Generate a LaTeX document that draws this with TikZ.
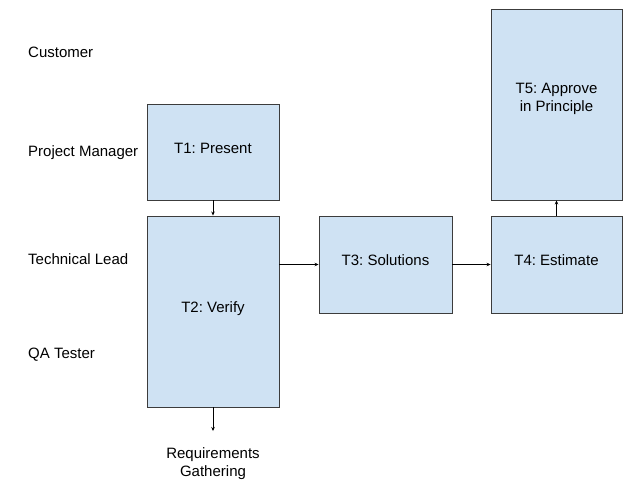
\documentclass[tikz,border=0pt]{standalone}
\usepackage{fontspec}
\setmainfont{Liberation Sans}
\usetikzlibrary{arrows.meta}
\definecolor{boxfill}{HTML}{CFE2F3}
\definecolor{boxline}{HTML}{3C3C3C}
\frenchspacing
\begin{document}
\begin{tikzpicture}[x=1pt,y=-1pt,
  font=\fontsize{15}{18}\selectfont\frenchspacing,
  task/.style={draw=boxline,fill=boxfill,line width=0.9pt,inner sep=0pt,
    align=center,text depth=8pt},
  role/.style={anchor=west,inner sep=0pt},
  conn/.style={line width=0.8pt,-{Stealth[length=4pt,width=3.5pt]}}]
\useasboundingbox (0,0) rectangle (639,493);
% roles
\node[role] (customer) at (28,52) {Customer};
\node[role] (pm) at (28,153) {Project Manager};
\node[role] (tl) at (28,259) {Technical Lead};
\node[role] (qa) at (28,355) {QA Tester};
% tasks
\node[task,minimum width=132pt,minimum height=96pt] (t1) at (213,152) {T1: Present};
\node[task,minimum width=132pt,minimum height=191pt] (t2) at (213,311.5) {T2: Verify};
\node[task,minimum width=133pt,minimum height=97pt] (t3) at (385.5,264.5) {T3: Solutions};
\node[task,minimum width=131pt,minimum height=97pt] (t4) at (556.5,264.5) {T4: Estimate};
\node[task,minimum width=131pt,minimum height=191pt,text depth=15pt] (t5) at (556.5,104.5) {T5: Approve\\in Principle};
\coordinate (reqend) at (213,431);
\node[align=center,anchor=north,inner sep=0pt] (req) at (213,447) {Requirements\\Gathering};
% connectors
\draw[conn] (t1.south) -- (t2.north);
\draw[conn] (t2.east |- t3.west) -- (t3.west);
\draw[conn] (t3.east) -- (t4.west);
\draw[conn] (t4.north) -- (t5.south);
\draw[conn] (t2.south) -- (reqend);
\end{tikzpicture}
\end{document}
